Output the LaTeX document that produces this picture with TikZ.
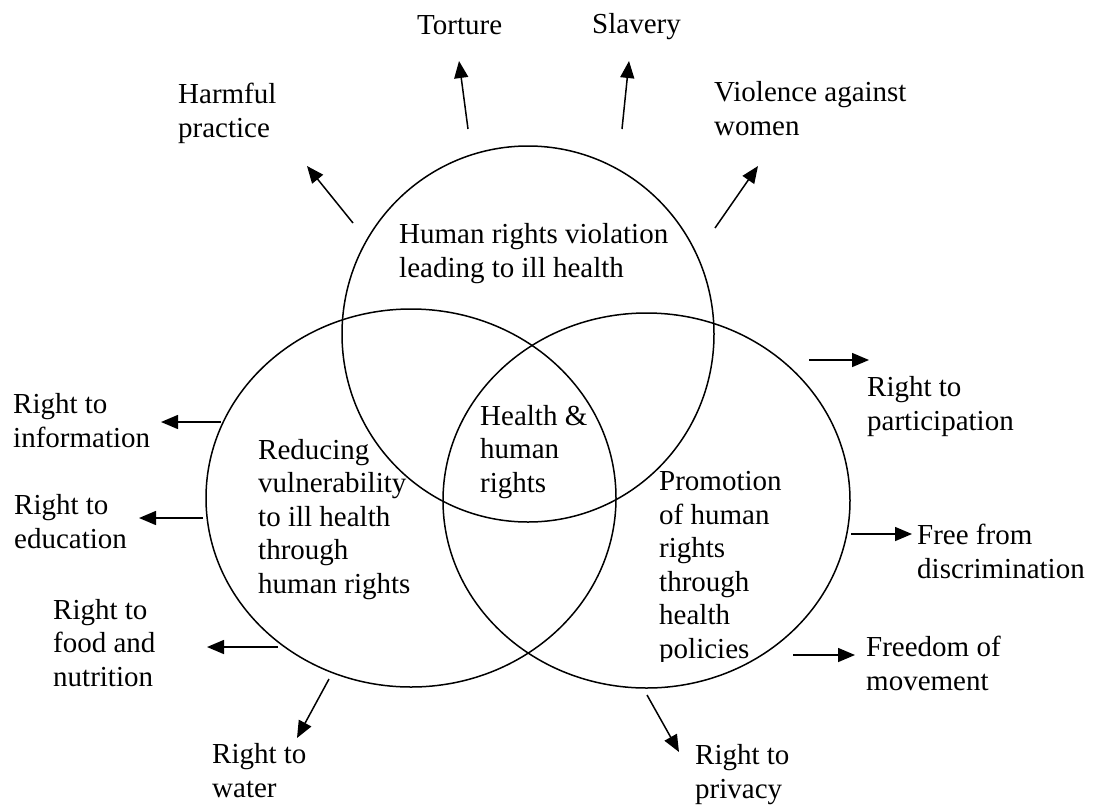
\documentclass[tikz,border=0pt]{standalone}
\usepackage{fontspec}
\setmainfont{Liberation Serif}
\usetikzlibrary{shapes.geometric,arrows.meta}
\begin{document}
\begin{tikzpicture}[x=1pt,y=-1pt,
  ring/.style={draw,ellipse,line width=1.5pt,inner sep=0pt},
  lbl/.style={anchor=base west,align=left,inner sep=0pt,font=\fontsize{29}{33.5}\selectfont},
  arr/.style={line width=1.5pt,-{Triangle[length=17pt,width=14pt]}}]
\useasboundingbox (0,0) rectangle (1094,809);
% circles
\node[ring,minimum width=372pt,minimum height=376pt] (ctop) at (528,334) {};
\node[ring,minimum width=410pt,minimum height=378pt] (cleft) at (411,498) {};
\node[ring,minimum width=407pt,minimum height=375pt] (cright) at (646.5,500.5) {};
% inner texts (anchor = baseline of last line)
\node[lbl] (ttop) at (399,277) {Human rights violation\\leading to ill health};
\node[lbl] (tleft) at (258,593) {Reducing\\vulnerability\\to ill health\\through\\human rights};
\node[lbl] (tmid) at (480,492) {Health \&\\human\\rights};
\begin{scope}
\clip (0,0) rectangle (1094,661);
\node[lbl] (tright) at (659,658) {Promotion\\of human\\rights\\through\\health\\policies};
\end{scope}
% outer labels
\node[lbl] (torture) at (417,34) {Torture};
\node[lbl] (slavery) at (592,33) {Slavery};
\node[lbl] (harmful) at (178,137) {Harmful\\practice};
\node[lbl] (violence) at (714,135) {Violence against\\women};
\node[lbl] (info) at (13,447) {Right to\\information};
\node[lbl] (edu) at (14,548) {Right to\\education};
\node[lbl] (food) at (53,686) {Right to\\food and\\nutrition};
\node[lbl] (water) at (212,797) {Right to\\water};
\node[lbl] (part) at (867,430) {Right to\\participation};
\node[lbl] (free) at (917,578) {Free from\\discrimination};
\node[lbl] (freedom) at (866,690) {Freedom of\\movement};
\node[lbl] (privacy) at (695,798) {Right to\\privacy};
% arrow end points
\coordinate (a1) at (353,223); \coordinate (b1) at (307,166);
\coordinate (a2) at (468,129); \coordinate (b2) at (459,61);
\coordinate (a3) at (622,129); \coordinate (b3) at (629,61);
\coordinate (a4) at (715,228); \coordinate (b4) at (758,166);
\coordinate (a5) at (221,422); \coordinate (b5) at (161,422);
\coordinate (a6) at (203,518); \coordinate (b6) at (139,518);
\coordinate (a7) at (278,647); \coordinate (b7) at (207,647);
\coordinate (a8) at (329,679); \coordinate (b8) at (297,738);
\coordinate (a9) at (809,360); \coordinate (b9) at (869,360);
\coordinate (a10) at (851,534); \coordinate (b10) at (912,534);
\coordinate (a11) at (793,655); \coordinate (b11) at (855,655);
\coordinate (a12) at (647,695); \coordinate (b12) at (679,752);
\foreach \i in {1,...,12} {\draw[arr] (a\i) -- (b\i);}
\end{tikzpicture}
\end{document}
